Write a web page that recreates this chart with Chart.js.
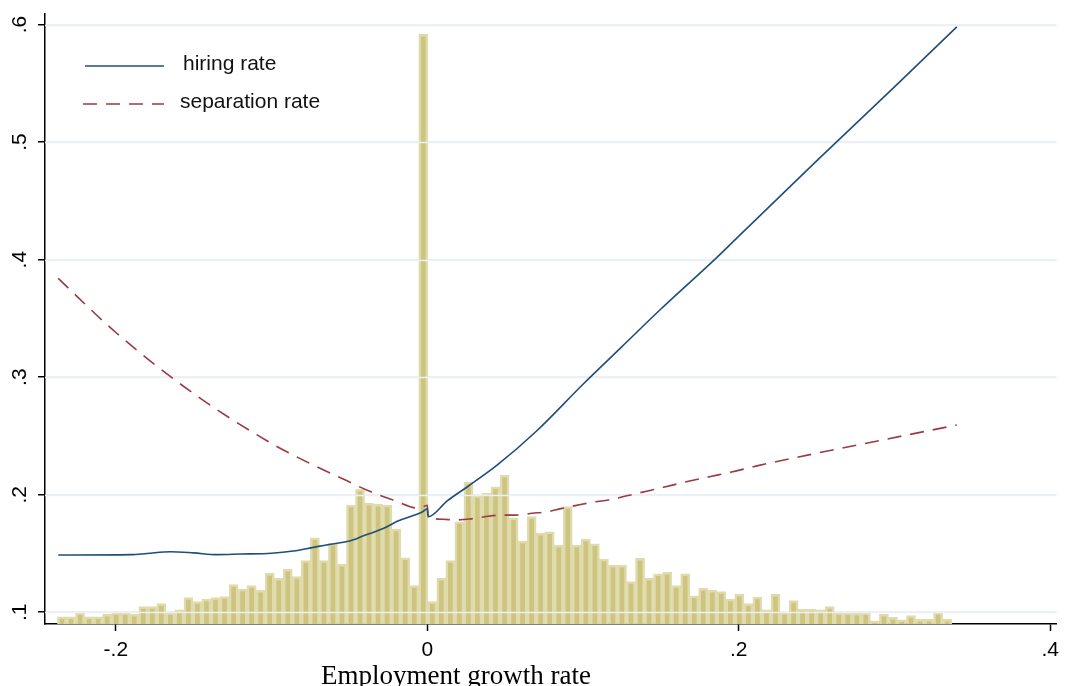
<!DOCTYPE html>
<html>
<head>
<meta charset="utf-8">
<script src="https://cdn.jsdelivr.net/npm/chart.js@4.4.1/dist/chart.umd.min.js"></script>
<style>
  html, body { margin: 0; padding: 0; background: #fff; }
  #wrap { width: 1066px; height: 686px; }
</style>
</head>
<body>
<div id="wrap"><canvas id="chart" width="1066" height="686"></canvas></div>
<script>
// histogram of employment growth rates (bins of equal width)
const binStart = -0.2375;
const binWidth = 0.0058;
const binHeights = [
  0.096, 0.096, 0.0997, 0.096, 0.096, 0.0983, 0.0997, 0.0997, 0.0983, 0.1048,
  0.1048, 0.1073, 0.0997, 0.102, 0.1124, 0.109, 0.1113, 0.1124, 0.1134, 0.1236,
  0.1198, 0.1226, 0.1187, 0.1332, 0.1289, 0.1366, 0.1303, 0.1439, 0.1634, 0.1439,
  0.1587, 0.1408, 0.1912, 0.2048, 0.1927, 0.1918, 0.1912, 0.1708, 0.1464, 0.1226,
  0.5918, 0.109, 0.1289, 0.1439, 0.177, 0.2105, 0.1992, 0.2012, 0.2068, 0.2168,
  0.1804, 0.1606, 0.1813, 0.1672, 0.1685, 0.1572, 0.1898, 0.1572, 0.1623, 0.1583,
  0.1453, 0.1402, 0.1402, 0.126, 0.1459, 0.1289, 0.1326, 0.134, 0.1226, 0.1326,
  0.1139, 0.1204, 0.1187, 0.1175, 0.1113, 0.1153, 0.1073, 0.1128, 0.102, 0.1153,
  0.100, 0.1099, 0.1028, 0.1028, 0.102, 0.1048, 0.0997, 0.0997, 0.0991, 0.0994,
  0.0926, 0.0983, 0.0957, 0.0935, 0.0971, 0.094, 0.094, 0.0997, 0.094
];
const binCenters = binHeights.map((_, i) => binStart + (i + 0.5) * binWidth);

const hiringX = [
  -0.237, -0.19, -0.18, -0.165, -0.15, -0.135, -0.12, -0.1, -0.086, -0.074,
  -0.064, -0.05, -0.041, -0.028, -0.019, -0.003, 0, 0.0005, 0.013, 0.026,
  0.045, 0.07, 0.1, 0.125, 0.15, 0.186, 0.2, 0.25, 0.3, 0.34
];
const hiringRate = [
  0.1487, 0.1490, 0.1500, 0.1515, 0.1505, 0.1490, 0.1495, 0.1502, 0.1521, 0.1550,
  0.1575, 0.1606, 0.1650, 0.1714, 0.1776, 0.1855, 0.1880, 0.1813, 0.1950, 0.2070,
  0.2253, 0.2540, 0.2940, 0.3260, 0.3580, 0.4020, 0.4200, 0.4840, 0.5470, 0.5980
];

const separationX = [
  -0.237, -0.2, -0.15, -0.1, -0.071, -0.054, -0.039, -0.022, -0.005, 0,
  0.0005, 0.0099, 0.0182, 0.0271, 0.0367, 0.0463, 0.0567, 0.0674, 0.077, 0.0865,
  0.095, 0.1078, 0.1163, 0.1365, 0.1516, 0.1663, 0.1812, 0.1961, 0.211, 0.226,
  0.28, 0.34
];
const separationRate = [
  0.384, 0.338, 0.286, 0.2436, 0.2238, 0.2134, 0.204, 0.1955, 0.1884, 0.1910,
  0.1820, 0.1791, 0.1785, 0.1793, 0.1812, 0.1826, 0.1826, 0.1842, 0.1855, 0.1884,
  0.1907, 0.1940, 0.1955, 0.2017, 0.2063, 0.2110, 0.2153, 0.2195, 0.2243, 0.2287,
  0.2433, 0.2593
];

const xTickValues = [-0.2, 0, 0.2, 0.4];
const xTickLabels = ['-.2', '0', '.2', '.4'];
const yTickValues = [0.1, 0.2, 0.3, 0.4, 0.5, 0.6];
const yTickLabels = ['.1', '.2', '.3', '.4', '.5', '.6'];

const HIRE_COLOR = '#1f4e7a';
const SEP_COLOR = '#9b3a42';
const SEP_DASH = [14, 9];
const GRID_COLOR = 'rgb(234,240,246)';
const SANS = '"Liberation Sans", Arial, sans-serif';

const overlay = {
  id: 'overlay',
  // gridlines go over the bars but under the two curves
  afterDatasetDraw(chart, args) {
    if (args.meta.type !== 'bar') return;
    const ctx = chart.ctx;
    const y = chart.scales.y;
    const area = chart.chartArea;
    ctx.save();
    ctx.strokeStyle = GRID_COLOR;
    ctx.lineWidth = 1.5;
    yTickValues.forEach(v => {
      const py = Math.round(y.getPixelForValue(v)) + 0.5;
      ctx.beginPath(); ctx.moveTo(area.left, py); ctx.lineTo(area.right, py); ctx.stroke();
    });
    ctx.restore();
  },
  afterDraw(chart) {
    const ctx = chart.ctx;
    const y = chart.scales.y;
    const area = chart.chartArea;
    ctx.save();
    // rotated y tick labels
    ctx.fillStyle = '#000';
    ctx.font = '21px ' + SANS;
    ctx.textAlign = 'center';
    ctx.textBaseline = 'middle';
    yTickValues.forEach((v, i) => {
      ctx.save();
      ctx.translate(20, y.getPixelForValue(v));
      ctx.rotate(-Math.PI / 2);
      ctx.fillText(yTickLabels[i], 0, 0);
      ctx.restore();
    });
    // legend inside the plot
    ctx.lineWidth = 1.6;
    ctx.strokeStyle = HIRE_COLOR;
    ctx.beginPath(); ctx.moveTo(area.left + 40, 66); ctx.lineTo(area.left + 119, 66); ctx.stroke();
    ctx.strokeStyle = SEP_COLOR;
    ctx.setLineDash(SEP_DASH);
    ctx.beginPath(); ctx.moveTo(area.left + 38, 104); ctx.lineTo(area.left + 119, 104); ctx.stroke();
    ctx.setLineDash([]);
    ctx.textAlign = 'left';
    ctx.fillStyle = '#111';
    ctx.fillText('hiring rate', area.left + 138, 64);
    ctx.fillText('separation rate', area.left + 135, 102);
    // axis title
    ctx.font = '27px "Liberation Serif", "Times New Roman", serif';
    ctx.textAlign = 'center';
    ctx.textBaseline = 'alphabetic';
    ctx.fillStyle = '#000';
    ctx.fillText('Employment growth rate', 456, 684);
    ctx.restore();
  }
};

new Chart(document.getElementById('chart'), {
  type: 'bar',
  data: {
    datasets: [
      {
        type: 'line', label: 'hiring rate',
        data: hiringX.map((x, i) => ({ x, y: hiringRate[i] })),
        borderColor: HIRE_COLOR, borderWidth: 1.6, pointRadius: 0,
        cubicInterpolationMode: 'monotone', order: 1
      },
      {
        type: 'line', label: 'separation rate',
        data: separationX.map((x, i) => ({ x, y: separationRate[i] })),
        borderColor: SEP_COLOR, borderWidth: 1.6, borderDash: SEP_DASH, pointRadius: 0,
        cubicInterpolationMode: 'monotone', order: 2
      },
      {
        type: 'bar', label: 'density',
        data: binCenters.map((x, i) => ({ x, y: binHeights[i] })),
        backgroundColor: 'rgb(205,196,128)', borderColor: 'rgb(224,219,172)', borderWidth: 2.5,
        barPercentage: 1, categoryPercentage: 1, order: 3
      }
    ]
  },
  options: {
    responsive: false,
    animation: false,
    layout: { padding: { top: 14, right: 4, left: 0, bottom: 0 } },
    plugins: { legend: { display: false }, tooltip: { enabled: false } },
    scales: {
      x: {
        type: 'linear', min: -0.2455, max: 0.404, offset: false,
        afterBuildTicks: s => { s.ticks = xTickValues.map(v => ({ value: v })); },
        afterFit: s => { s.height = 62; },
        ticks: {
          callback: v => xTickLabels[xTickValues.indexOf(v)],
          color: '#000', font: { size: 21, family: SANS }, padding: 7, maxRotation: 0
        },
        grid: { drawOnChartArea: false, drawTicks: true, tickLength: 7, tickColor: '#000', tickWidth: 1.5, offset: false },
        border: { display: true, color: '#000', width: 1.5 }
      },
      y: {
        min: 0.09, max: 0.609,
        afterBuildTicks: s => { s.ticks = yTickValues.map(v => ({ value: v })); },
        afterFit: s => { s.width = 45; },
        ticks: { display: false },
        grid: { color: GRID_COLOR, lineWidth: 1.5, drawTicks: true, tickLength: 7, tickColor: '#000', tickWidth: 1.5 },
        border: { display: true, color: '#000', width: 1.5 }
      }
    }
  },
  plugins: [overlay]
});
</script>
</body>
</html>
